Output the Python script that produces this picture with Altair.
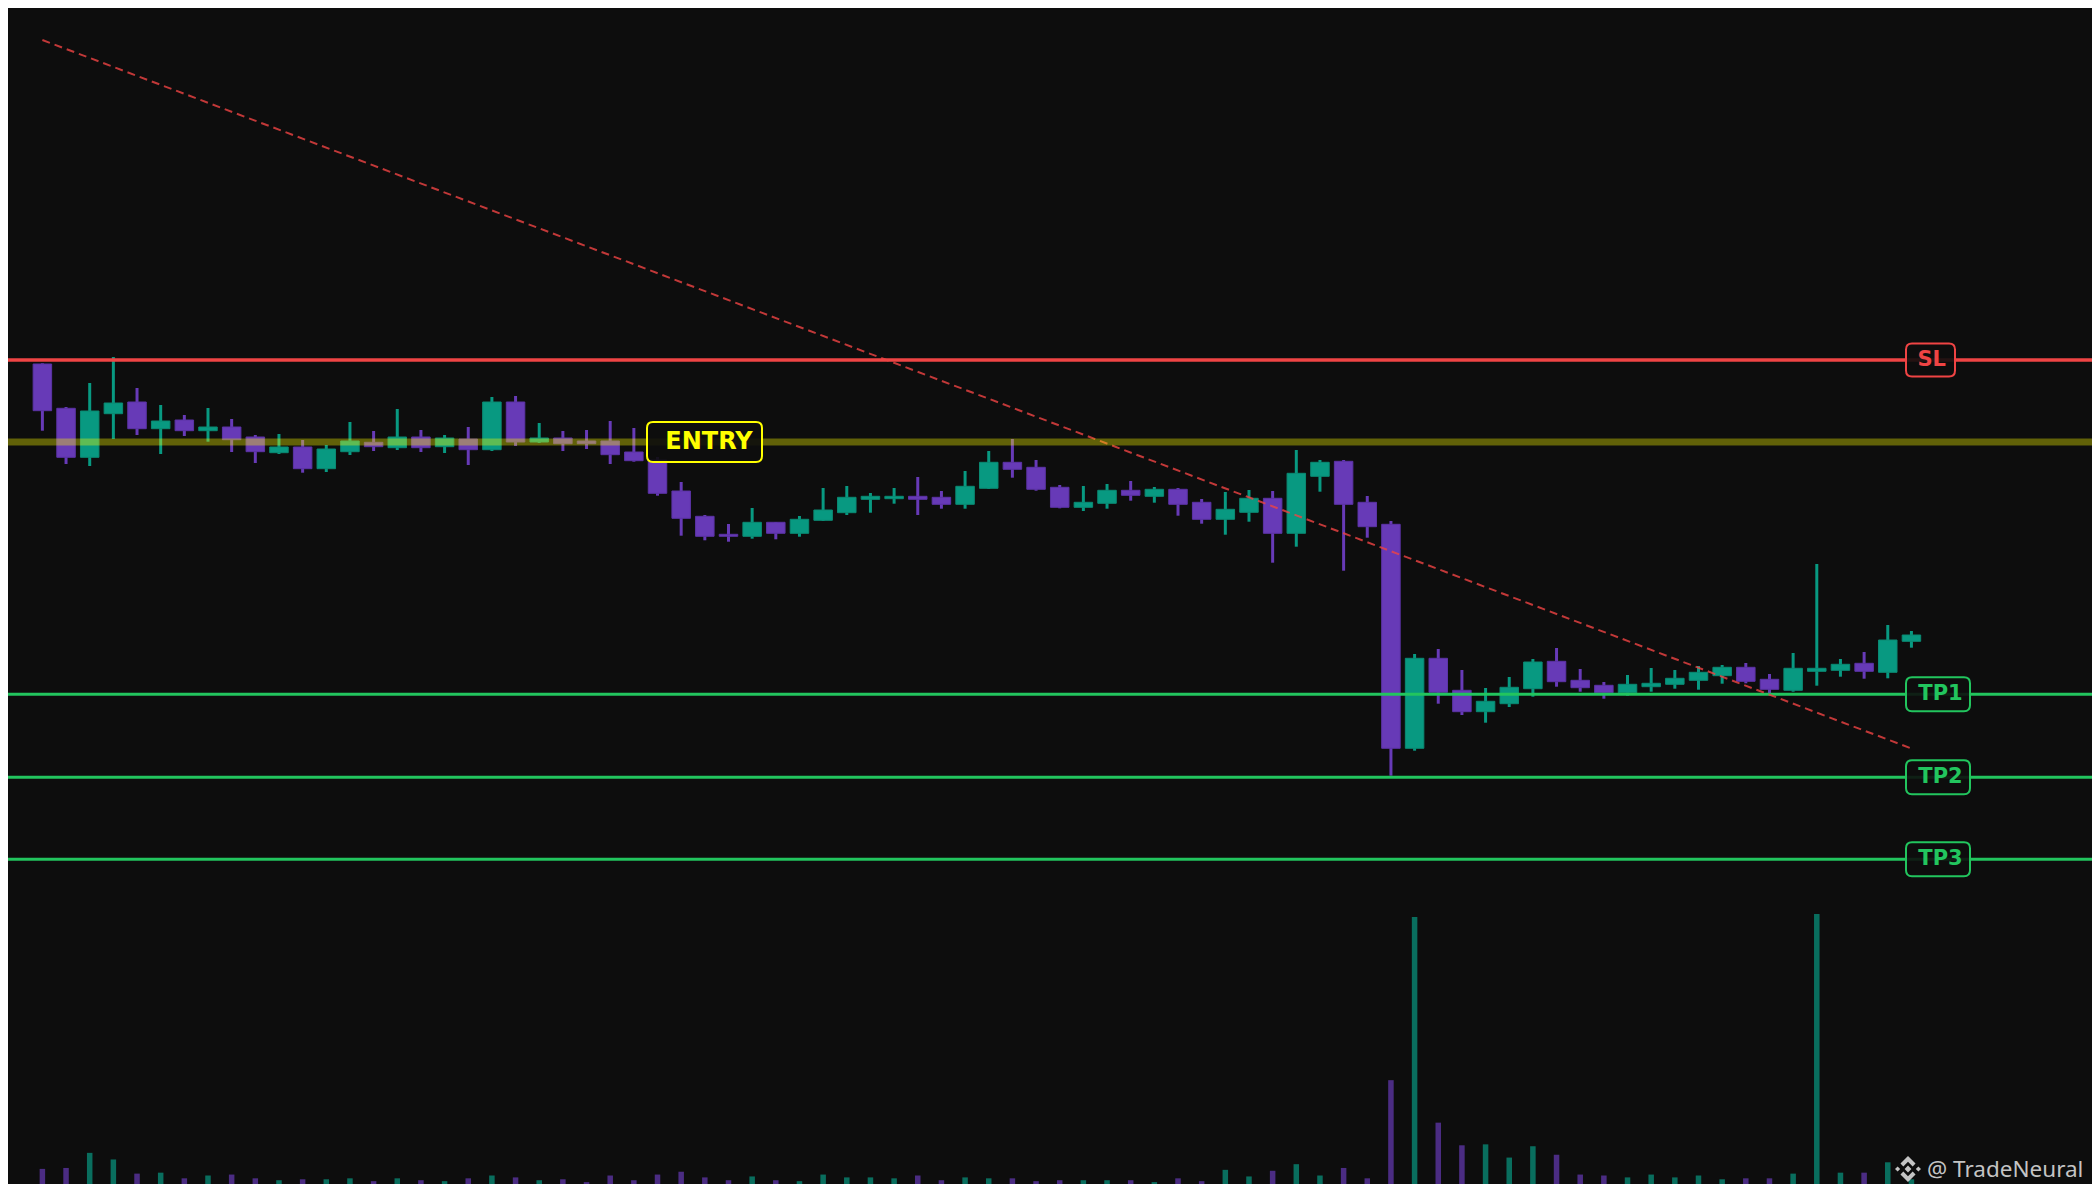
import altair as alt
import pandas as pd

# ---------------- data ----------------
candle_index = list(range(80))
open_ = [636.0, 591.7, 542.7, 586.3, 598.0, 571.3, 580.0, 569.3, 573.0, 563.0,
         547.3, 553.0, 531.3, 548.3, 557.7, 552.3, 563.0, 553.3, 561.0, 550.3,
         598.0, 558.0, 562.0, 559.0, 559.0, 548.0, 540.0, 509.0, 483.7, 465.7,
         463.7, 477.7, 466.7, 479.7, 487.3, 500.7, 501.3, 503.7, 502.7, 495.7,
         511.7, 537.7, 532.7, 512.7, 492.7, 496.7, 509.7, 503.7, 510.7, 497.7,
         480.7, 487.7, 501.7, 466.7, 523.7, 538.7, 497.7, 475.7, 251.7, 341.7,
         309.7, 288.3, 296.3, 311.3, 338.7, 319.7, 314.7, 307.3, 313.3, 315.7,
         319.7, 324.3, 332.7, 320.7, 309.7, 328.7, 329.7, 336.7, 327.7, 358.7]
high = [636.7, 593.0, 617.0, 643.0, 612.0, 595.0, 585.0, 592.0, 581.0, 565.0,
        566.0, 560.0, 555.0, 578.0, 569.0, 591.0, 570.0, 565.0, 573.0, 603.0,
        604.0, 577.0, 569.0, 570.0, 579.0, 572.0, 543.0, 518.0, 485.0, 476.0,
        492.0, 478.0, 484.0, 512.0, 514.0, 507.0, 512.0, 523.0, 509.0, 529.0,
        549.0, 561.0, 540.0, 515.0, 514.0, 516.0, 519.0, 513.0, 512.0, 501.0,
        508.0, 510.0, 509.0, 550.0, 540.0, 540.0, 504.0, 479.0, 346.0, 351.0,
        330.0, 312.0, 323.0, 341.0, 352.0, 331.0, 318.0, 325.0, 332.0, 330.0,
        334.0, 335.0, 337.0, 326.0, 347.0, 436.0, 341.0, 348.0, 375.0, 369.0]
low = [569.3, 536.0, 534.0, 561.0, 565.0, 546.0, 564.0, 558.3, 548.0, 537.0,
       546.0, 527.3, 528.0, 545.0, 549.0, 550.0, 548.0, 547.0, 535.0, 549.0,
       554.0, 557.0, 549.0, 551.0, 536.0, 538.3, 504.3, 464.3, 459.7, 458.3,
       461.3, 460.7, 463.3, 479.0, 485.0, 487.3, 496.3, 485.0, 491.3, 491.3,
       511.0, 522.3, 509.3, 491.7, 489.0, 491.3, 499.3, 497.3, 484.3, 476.3,
       465.3, 478.3, 437.3, 453.3, 508.3, 429.3, 462.3, 224.3, 249.3, 296.3,
       285.0, 277.3, 293.0, 303.3, 313.3, 308.3, 301.3, 304.3, 308.3, 311.3,
       310.3, 316.3, 316.7, 306.7, 308.3, 314.3, 323.3, 321.3, 321.7, 352.3]
close = [589.3, 542.7, 589.0, 597.0, 571.3, 579.0, 569.3, 573.0, 560.3, 548.3,
         553.0, 531.3, 551.0, 559.0, 553.3, 563.0, 552.3, 562.0, 550.3, 598.0,
         558.0, 562.0, 556.3, 556.3, 545.3, 539.3, 506.7, 481.7, 463.7, 463.7,
         477.7, 466.7, 480.7, 490.0, 502.7, 503.7, 503.7, 500.7, 495.7, 513.7,
         537.7, 530.7, 510.7, 492.7, 497.7, 509.7, 504.7, 510.7, 495.7, 480.7,
         490.7, 501.7, 466.7, 526.7, 537.7, 495.7, 473.3, 251.7, 341.7, 307.7,
         288.3, 298.7, 312.7, 338.0, 318.3, 312.3, 307.3, 315.7, 316.7, 321.7,
         327.7, 332.7, 318.7, 310.7, 331.7, 331.7, 335.7, 328.7, 360.0, 365.0]
volume = [16, 17, 33, 26, 11, 12, 6, 9, 10, 6,
          4, 5, 5, 6, 3, 6, 4, 3, 6, 9,
          7, 4, 5, 2, 9, 4, 10, 13, 7, 4,
          8, 4, 3, 10, 7, 7, 6, 9, 4, 7,
          6, 6, 3, 4, 4, 4, 4, 2, 6, 3,
          15, 8, 14, 21, 9, 17, 6, 110, 283, 65,
          41, 42, 28, 40, 31, 10, 9, 7, 10, 7,
          9, 5, 6, 6, 11, 286, 12, 12, 23, 5]

level_names = ["SL", "ENTRY", "TP1", "TP2", "TP3"]
level_prices = [640.0, 558.0, 305.7, 222.7, 140.7]

trend_index = [0, 79]
trend_price = [960.0, 251.5]

brand_text = ["@ TradeNeural"]

assert all(len(a) == 80 for a in (open_, high, low, close, volume))

# ---------------- styling ----------------
BG = "#0d0d0d"
UP, DOWN = "#089981", "#673ab7"
UP_EDGE, DOWN_EDGE = "#0b8a73", "#5c33a6"
RED, YELLOW, GREEN = "#ef4444", "#ffff00", "#22c55e"
W, H = 2084, 1176


def rrect(w, h, r):
    L = max(w, h)
    a, b, rr = w / L, h / L, 2 * r / L
    f = lambda v: f"{v:.4f}"
    p = (f"M{f(-a+rr)},{f(-b)}L{f(a-rr)},{f(-b)}Q{f(a)},{f(-b)},{f(a)},{f(-b+rr)}"
         f"L{f(a)},{f(b-rr)}Q{f(a)},{f(b)},{f(a-rr)},{f(b)}"
         f"L{f(-a+rr)},{f(b)}Q{f(-a)},{f(b)},{f(-a)},{f(b-rr)}"
         f"L{f(-a)},{f(-b+rr)}Q{f(-a)},{f(-b)},{f(-a+rr)},{f(-b)}Z")
    return p, L * L


BRAND_ICON = ("M0,-0.26L0.26,0L0,0.26L-0.26,0Z"
              "M-0.8,-0.2L-0.6,0L-0.8,0.2L-1,0Z"
              "M0.8,-0.2L1,0L0.8,0.2L0.6,0Z"
              "M0,-1L0.58,-0.42L0.36,-0.2L0,-0.56L-0.36,-0.2L-0.58,-0.42Z"
              "M0,1L0.58,0.42L0.36,0.2L0,0.56L-0.36,0.2L-0.58,0.42Z")

# ---------------- tables ----------------
df = pd.DataFrame({"i": candle_index, "open": open_, "high": high,
                   "low": low, "close": close, "volume": volume})
df["dir"] = ["up" if c >= o else "down" for o, c in zip(open_, close)]
levels_df = pd.DataFrame({"name": level_names, "price": level_prices})
trend_df = pd.DataFrame({"i": trend_index, "price": trend_price})
brand_df = pd.DataFrame({"brand": brand_text})

x_scale = alt.Scale(domain=[-1.24211, 86.42105], nice=False, zero=False)
y_scale = alt.Scale(domain=[-184, 992], nice=False, zero=False)
v_scale = alt.Scale(domain=[0, 1246], nice=False, zero=False)

X = alt.X("i:Q", scale=x_scale, axis=None)
color = alt.Color("dir:N", scale=alt.Scale(domain=["up", "down"], range=[UP, DOWN]), legend=None)
edge = alt.Stroke("dir:N", scale=alt.Scale(domain=["up", "down"], range=[UP_EDGE, DOWN_EDGE]), legend=None)

base = alt.Chart(df)
vol = base.mark_bar(width=5.5, opacity=0.7).encode(
    x=X, y=alt.Y("volume:Q", scale=v_scale, axis=None), color=color)
wick = base.mark_rule(strokeWidth=3).encode(
    x=X, y=alt.Y("low:Q", scale=y_scale, axis=None), y2="high:Q", color=color)
body = base.mark_bar(width=18.5, strokeWidth=1).encode(
    x=X, y=alt.Y("open:Q", scale=y_scale, axis=None), y2="close:Q", color=color, stroke=edge)

trend = alt.Chart(trend_df).mark_line(color=RED, strokeWidth=2, strokeDash=[8, 5], opacity=0.8).encode(
    x=X, y=alt.Y("price:Q", scale=y_scale, axis=None))

LY = alt.Y("price:Q", scale=y_scale, axis=None)
lv = alt.Chart(levels_df)
sl_rule = lv.transform_filter(alt.datum.name == "SL").mark_rule(color=RED, strokeWidth=3.5).encode(y=LY)
tp_rule = lv.transform_filter(alt.FieldOneOfPredicate(field="name", oneOf=["TP1", "TP2", "TP3"])).mark_rule(
    color=GREEN, strokeWidth=3).encode(y=LY)
entry_rule = lv.transform_filter(alt.datum.name == "ENTRY").mark_rule(
    color=YELLOW, strokeWidth=7, opacity=0.35).encode(y=LY)

label_styles = [
    # name, colour, box w, box h, box x, text x, font size
    ("SL", RED, 49, 33, 1922.5, 1923.7, 21),
    ("ENTRY", YELLOW, 115, 40, 696.5, 701, 24),
    ("TP1", GREEN, 64, 34, 1930, 1932.5, 21),
    ("TP2", GREEN, 64, 34, 1930, 1932.5, 21),
    ("TP3", GREEN, 64, 34, 1930, 1932.5, 21),
]
label_layers = []
for name, col, bw, bh, bx, tx, fs in label_styles:
    path, size = rrect(bw, bh, 6)
    sub = lv.transform_filter(alt.datum.name == name)
    label_layers.append(sub.mark_point(shape=path, size=size, filled=True, fill=BG, fillOpacity=0.9,
                                       stroke=col, strokeWidth=2, opacity=1).encode(
        x=alt.value(bx), y=LY))
    label_layers.append(sub.mark_text(font="DejaVu Sans", fontWeight="bold", fontSize=fs, color=col,
                                      align="center", baseline="middle").encode(
        x=alt.value(tx), y=LY, text="name:N"))

wm_icon = alt.Chart(brand_df).mark_point(shape=BRAND_ICON, size=676, filled=True, fill="#d8d8d8",
                                         opacity=0.9, strokeWidth=0).encode(
    x=alt.value(1900), y=alt.value(1161))
wm_text = alt.Chart(brand_df).mark_text(font="Noto Sans", fontSize=22.5, color="#d8d8d8", opacity=0.9,
                                        align="left", baseline="alphabetic").encode(
    x=alt.value(1919), y=alt.value(1169), text="brand:N")

chart = alt.layer(
    vol, wick, body, sl_rule, tp_rule, trend, entry_rule, *label_layers, wm_icon, wm_text
).resolve_scale(y="independent").properties(
    width=W, height=H, padding=0, autosize=alt.AutoSizeParams(type="none")
).configure(background=BG).configure_view(strokeWidth=0)

chart.save("out.html", embed_options={"renderer": "svg", "actions": False})
